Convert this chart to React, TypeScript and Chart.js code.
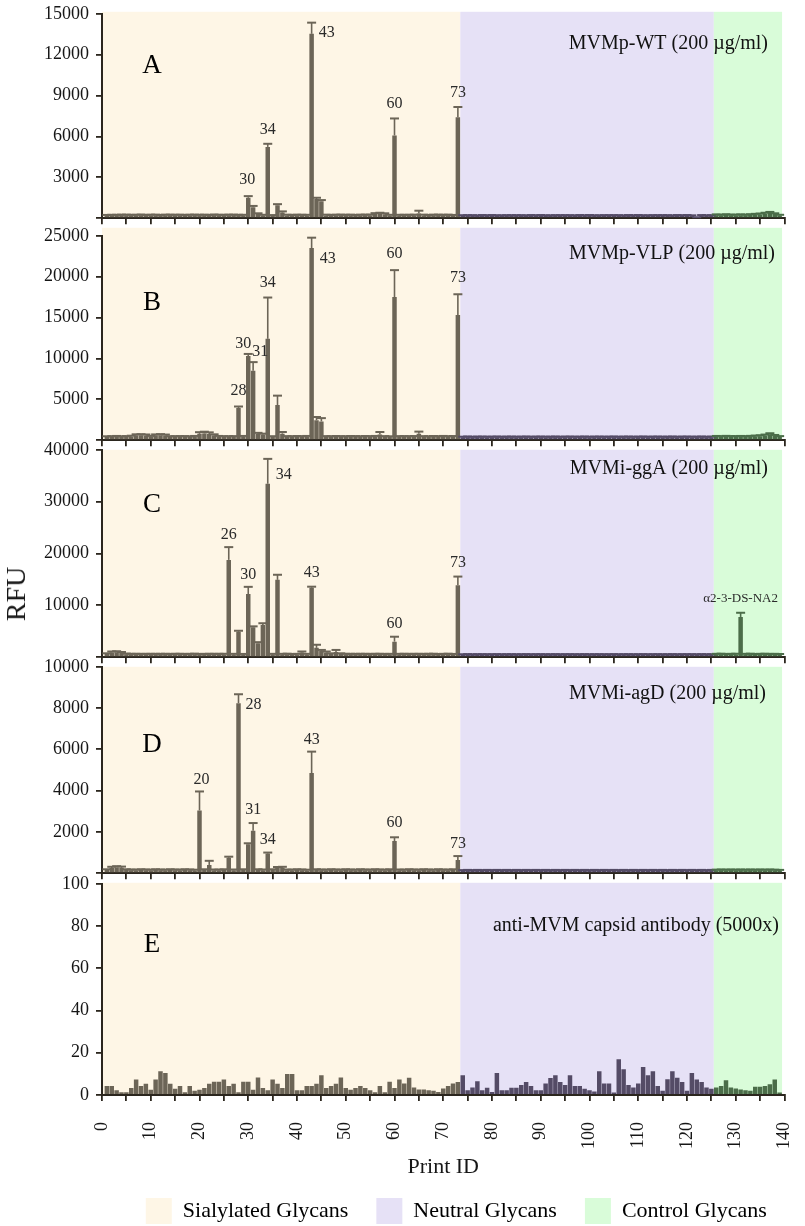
import React, { useEffect, useRef } from 'react';
import { Chart, registerables } from 'chart.js';

Chart.register(...registerables);

// ---------------- data ----------------
const printIds: number[] = Array.from({ length: 139 }, (_, i) => i + 1);

const groupNames = ['Sialylated Glycans', 'Neutral Glycans', 'Control Glycans'];
const groupFrom = [0, 73.5, 125.5];
const groupTo = [73.5, 125.5, 139.5];

const rfuA = [
  180, 200, 190, 210, 200, 190, 200, 210, 190, 200,
  200, 190, 200, 210, 190, 200, 190, 200, 210, 190,
  200, 190, 210, 200, 190, 200, 210, 190, 200, 1500,
  800, 300, 200, 5230, 180, 950, 420, 200, 190, 200,
  190, 200, 13530, 1400, 1250, 200, 190, 200, 210, 190,
  200, 190, 200, 210, 200, 300, 340, 290, 200, 6070,
  190, 200, 190, 210, 350, 200, 190, 200, 210, 190,
  200, 190, 7400, 170, 180, 170, 160, 180, 170, 180,
  170, 160, 180, 170, 180, 170, 160, 180, 170, 180,
  170, 160, 180, 170, 180, 170, 160, 180, 170, 180,
  170, 160, 180, 170, 180, 170, 160, 180, 170, 180,
  170, 160, 180, 170, 180, 170, 160, 180, 170, 180,
  170, 40, 180, 170, 170, 220, 200, 230, 210, 200,
  220, 210, 230, 250, 280, 330, 380, 300, 200,
];
const errA = [
  60, 50, 60, 50, 60, 60, 50, 60, 50, 60,
  60, 50, 60, 50, 60, 60, 50, 60, 50, 60,
  60, 50, 60, 50, 60, 60, 50, 60, 50, 120,
  100, 60, 50, 230, 50, 80, 80, 60, 50, 60,
  60, 50, 820, 100, 80, 60, 50, 60, 50, 60,
  60, 50, 60, 50, 60, 70, 60, 70, 50, 1250,
  60, 50, 60, 50, 200, 60, 50, 60, 50, 60,
  60, 50, 760, 50, 40, 50, 40, 50, 40, 50,
  40, 50, 40, 50, 40, 50, 40, 50, 40, 50,
  40, 50, 40, 50, 40, 50, 40, 50, 40, 50,
  40, 50, 40, 50, 40, 50, 40, 50, 40, 50,
  40, 50, 40, 50, 40, 50, 40, 50, 40, 50,
  40, 30, 50, 40, 50, 60, 50, 60, 50, 60,
  60, 50, 60, 70, 60, 70, 80, 60, 50,
];

const rfuB = [
  380, 400, 420, 390, 400, 450, 600, 620, 580, 420,
  600, 620, 580, 400, 390, 410, 400, 380, 420, 780,
  820, 760, 600, 420, 400, 390, 410, 3950, 420, 10300,
  8500, 800, 700, 12400, 400, 4300, 800, 400, 390, 410,
  400, 420, 23500, 2450, 2300, 400, 390, 410, 400, 380,
  420, 400, 390, 410, 400, 420, 700, 400, 390, 17500,
  400, 410, 390, 420, 800, 400, 390, 410, 400, 420,
  390, 410, 15300, 350, 360, 340, 350, 360, 340, 350,
  360, 340, 350, 360, 340, 350, 360, 340, 350, 360,
  340, 350, 360, 340, 350, 360, 340, 350, 360, 340,
  350, 360, 340, 350, 360, 340, 350, 360, 340, 350,
  360, 340, 350, 360, 340, 350, 360, 340, 350, 360,
  340, 350, 360, 340, 350, 420, 400, 430, 410, 400,
  420, 410, 430, 450, 480, 560, 700, 520, 400,
];
const errB = [
  100, 90, 100, 90, 100, 100, 120, 110, 120, 100,
  110, 120, 110, 90, 100, 90, 100, 90, 100, 200,
  220, 200, 120, 100, 90, 100, 90, 170, 100, 250,
  1050, 100, 100, 5050, 90, 1150, 200, 100, 90, 100,
  90, 100, 1270, 390, 400, 100, 90, 100, 90, 100,
  90, 100, 90, 100, 90, 100, 300, 100, 90, 3300,
  100, 90, 100, 90, 250, 100, 90, 100, 90, 100,
  90, 100, 2550, 80, 90, 80, 90, 80, 90, 80,
  90, 80, 90, 80, 90, 80, 90, 80, 90, 80,
  90, 80, 90, 80, 90, 80, 90, 80, 90, 80,
  90, 80, 90, 80, 90, 80, 90, 80, 90, 80,
  90, 80, 90, 80, 90, 80, 90, 80, 90, 80,
  90, 80, 90, 80, 90, 100, 90, 100, 90, 100,
  100, 90, 100, 110, 120, 130, 150, 120, 100,
];

const rfuC = [
  600, 900, 950, 850, 550, 500, 520, 480, 500, 510,
  490, 500, 520, 480, 500, 510, 490, 500, 520, 480,
  500, 510, 490, 500, 520, 18770, 500, 4900, 480, 12170,
  5800, 2700, 6200, 33450, 500, 14920, 500, 520, 480, 500,
  900, 500, 13400, 1800, 1200, 900, 600, 1000, 600, 500,
  510, 490, 500, 520, 480, 500, 510, 490, 500, 3000,
  500, 520, 480, 500, 510, 490, 500, 520, 480, 500,
  510, 490, 13900, 450, 460, 440, 450, 460, 440, 450,
  460, 440, 450, 460, 440, 450, 460, 440, 450, 460,
  440, 450, 460, 440, 450, 460, 440, 450, 460, 440,
  450, 460, 440, 450, 460, 440, 450, 460, 440, 450,
  460, 440, 450, 460, 440, 450, 460, 440, 450, 460,
  450, 440, 460, 450, 440, 500, 520, 480, 500, 510,
  7760, 500, 520, 480, 500, 510, 490, 500, 480,
];
const errC = [
  150, 200, 200, 150, 150, 150, 140, 160, 150, 140,
  160, 150, 140, 150, 160, 150, 140, 150, 160, 150,
  140, 150, 160, 150, 140, 2460, 150, 200, 150, 1400,
  150, 200, 350, 4800, 150, 980, 150, 160, 140, 150,
  200, 150, 200, 600, 200, 200, 150, 400, 150, 150,
  140, 160, 150, 140, 150, 160, 150, 140, 150, 950,
  150, 140, 160, 150, 140, 150, 160, 150, 140, 150,
  160, 140, 1650, 120, 130, 120, 130, 120, 130, 120,
  130, 120, 130, 120, 130, 120, 130, 120, 130, 120,
  130, 120, 130, 120, 130, 120, 130, 120, 130, 120,
  130, 120, 130, 120, 130, 120, 130, 120, 130, 120,
  130, 120, 130, 120, 130, 120, 130, 120, 130, 120,
  130, 120, 130, 120, 130, 150, 160, 140, 150, 160,
  810, 150, 160, 140, 150, 160, 140, 150, 140,
];

const rfuD = [
  150, 250, 280, 260, 150, 140, 130, 150, 140, 130,
  150, 140, 130, 150, 140, 130, 150, 140, 130, 3040,
  150, 400, 140, 130, 150, 750, 140, 8240, 150, 1400,
  2060, 150, 140, 950, 150, 250, 260, 140, 130, 150,
  140, 130, 4850, 150, 140, 130, 150, 140, 130, 150,
  140, 130, 150, 140, 130, 150, 140, 130, 150, 1560,
  140, 130, 150, 140, 130, 150, 140, 130, 150, 140,
  130, 150, 640, 120, 130, 120, 130, 120, 130, 120,
  130, 120, 130, 120, 130, 120, 130, 120, 130, 120,
  130, 120, 130, 120, 130, 120, 130, 120, 130, 120,
  130, 120, 130, 120, 130, 120, 130, 120, 130, 120,
  130, 120, 130, 120, 130, 120, 130, 120, 130, 120,
  130, 120, 130, 120, 130, 130, 140, 130, 140, 130,
  140, 130, 140, 130, 140, 130, 140, 130, 120,
];
const errD = [
  40, 60, 60, 60, 40, 40, 40, 40, 40, 40,
  40, 40, 40, 40, 40, 40, 40, 40, 40, 920,
  40, 200, 40, 40, 40, 50, 40, 430, 40, 50,
  370, 40, 40, 50, 40, 50, 50, 40, 40, 40,
  40, 40, 1040, 40, 40, 40, 40, 40, 40, 40,
  40, 40, 40, 40, 40, 40, 40, 40, 40, 180,
  40, 40, 40, 40, 40, 40, 40, 40, 40, 40,
  40, 40, 190, 30, 30, 30, 30, 30, 30, 30,
  30, 30, 30, 30, 30, 30, 30, 30, 30, 30,
  30, 30, 30, 30, 30, 30, 30, 30, 30, 30,
  30, 30, 30, 30, 30, 30, 30, 30, 30, 30,
  30, 30, 30, 30, 30, 30, 30, 30, 30, 30,
  30, 30, 30, 30, 30, 40, 40, 40, 40, 40,
  40, 40, 40, 40, 40, 40, 40, 40, 40,
];

const rfuE = [
  4.3, 4.3, 2.3, 1.3, 1.3, 3.3, 7.3, 4.3, 5.3, 2.5,
  7.3, 11.2, 10.4, 5.3, 3, 4.3, 1.3, 4.3, 2, 2.5,
  3.3, 5.3, 6.3, 6.3, 7.3, 4.3, 5.3, 1.3, 6.3, 6.3,
  2.5, 8.3, 3.3, 2.3, 7.3, 5.3, 3.3, 10, 10, 2.3,
  2.3, 4.3, 4.3, 5.3, 9.3, 3.3, 4.3, 5.3, 8.3, 3.3,
  2.5, 3.3, 4.3, 3.3, 2.3, 1.3, 4.3, 1.3, 6.3, 3.3,
  7.3, 5.4, 8.2, 3.6, 2.6, 2.6, 2.3, 2.0, 1.4, 3.1,
  4.3, 5.4, 6.2, 9.3, 2.3, 3.6, 6.5, 2.3, 3.4, 1.4,
  10.4, 2.3, 2.3, 3.4, 3.4, 4.7, 6.2, 4.3, 2.3, 2.3,
  5.4, 8, 9.3, 6.2, 4.7, 9.3, 4.3, 4.3, 3.0, 2.3,
  1.6, 11.3, 5.4, 5.4, 1.2, 16.9, 12.2, 4.7, 3.6, 5.4,
  13.2, 9.3, 11.3, 4.3, 2, 7.4, 11.3, 8.2, 6.2, 2,
  10.4, 7.3, 6.2, 3.6, 3.0, 3.6, 4.3, 7, 3.6, 3.1,
  2.6, 2.3, 2, 3.9, 3.9, 4.3, 5.1, 7.3, 1.2,
];

const peakIdsA = [30, 34, 43, 60, 73];
const peakNamesA = ['30', '34', '43', '60', '73'];
const peakIdsB = [28, 30, 31, 34, 43, 60, 73];
const peakNamesB = ['28', '30', '31', '34', '43', '60', '73'];
const peakIdsC = [26, 30, 34, 43, 60, 73, 131];
const peakNamesC = ['26', '30', '34', '43', '60', '73', 'α2-3-DS-NA2'];
const peakIdsD = [20, 28, 31, 34, 43, 60, 73];
const peakNamesD = ['20', '28', '31', '34', '43', '60', '73'];

const panelTitles = [
  'MVMp-WT (200 µg/ml)',
  'MVMp-VLP (200 µg/ml)',
  'MVMi-ggA (200 µg/ml)',
  'MVMi-agD (200 µg/ml)',
  'anti-MVM capsid antibody (5000x)',
];
const panelLetters = ['A', 'B', 'C', 'D', 'E'];
const yMaxes = [15000, 25000, 40000, 10000, 100];
const ySteps = [3000, 5000, 10000, 2000, 20];

// ---------------- styles / layout ----------------
const FONT = '"Liberation Serif", "Times New Roman", serif';
const TEXT = '#161616';
const AXIS = '#2b261e';
const BAND_COLORS = ['#fef6e6', '#e6e1f6', '#d9fcd9'];
const BAR_COLORS = ['#6c6557', '#544b66', '#4b6d49'];
const PAD_TOP = 14;
const PLOT_LEFT = 102;
const PLOT_RIGHT = 784.5;
const CAP = 9;
const E_CANVAS_BOTTOM = 1250;
const E_XAXIS_HEIGHT = 85;
const LEGEND_DX = 13;
const LEGEND_DY = -10;

const layouts = [
  { top: 10, bottom: 224, bandExtra: 2, titleDy: 30, titleRight: 768, letterDy: 52,
    offsets: { 30: [-1, -16], 34: [0, -14], 43: [15, 10], 60: [0, -15], 73: [0, -14] } },
  { top: 232, bottom: 446, bandExtra: 8, titleDy: 18, titleRight: 775, letterDy: 67,
    offsets: { 28: [0, -16], 30: [-5, -10], 31: [7, -10], 34: [0, -15], 43: [16, 21], 60: [0, -16], 73: [0, -16] } },
  { top: 446, bottom: 663, bandExtra: 0, titleDy: 19, titleRight: 768, letterDy: 55,
    offsets: { 26: [0, -12], 30: [0, -12], 34: [16, 16], 43: [0, -14], 60: [0, -13], 73: [0, -14], 131: [0, -14] } },
  { top: 663, bottom: 879, bandExtra: 0, titleDy: 27, titleRight: 766, letterDy: 78,
    offsets: { 20: [2, -12], 28: [15, 11], 31: [0, -13], 34: [0, -13], 43: [0, -12], 60: [0, -14], 73: [0, -12] } },
  { top: 880, bottom: 1095, bandExtra: 1, titleDy: 42, titleRight: 779, letterDy: 61, offsets: {} },
];

const panels = [
  { values: rfuA, errors: errA, peakIds: peakIdsA, peakNames: peakNamesA },
  { values: rfuB, errors: errB, peakIds: peakIdsB, peakNames: peakNamesB },
  { values: rfuC, errors: errC, peakIds: peakIdsC, peakNames: peakNamesC },
  { values: rfuD, errors: errD, peakIds: peakIdsD, peakNames: peakNamesD },
  { values: rfuE, errors: null, peakIds: [], peakNames: [] },
];

function groupOf(id: number): number {
  for (let g = 0; g < groupFrom.length; g++) {
    if (id >= groupFrom[g] && id < groupTo[g]) return g;
  }
  return groupFrom.length - 1;
}

function Panel({ index }: { index: number }) {
  const ref = useRef<HTMLCanvasElement | null>(null);
  const lay = layouts[index];
  const def = panels[index];
  const last = index === panels.length - 1;
  const canvasTop = lay.top - PAD_TOP;
  const canvasH = last ? E_CANVAS_BOTTOM - canvasTop : PAD_TOP + (lay.bottom - lay.top) + 12;

  useEffect(() => {
    const canvas = ref.current;
    if (!canvas) return;

    const decor = {
      id: 'decor' + index,
      afterLayout(chart: any) {
        if (!last || !chart.legend) return;
        const lg = chart.legend;
        lg.left += LEGEND_DX;
        lg.right += LEGEND_DX;
        lg.top += LEGEND_DY;
        lg.bottom += LEGEND_DY;
      },
      beforeDraw(chart: any) {
        const { ctx, chartArea, scales } = chart;
        const x = scales.x;
        ctx.save();
        for (let g = 0; g < groupFrom.length; g++) {
          const x0 = x.getPixelForValue(groupFrom[g]);
          const x1 = x.getPixelForValue(groupTo[g]);
          ctx.fillStyle = BAND_COLORS[g];
          ctx.fillRect(x0, chartArea.top - lay.bandExtra, x1 - x0, chartArea.bottom - chartArea.top + lay.bandExtra);
        }
        ctx.restore();
      },
      afterDatasetsDraw(chart: any) {
        if (!def.errors) return;
        const { ctx, scales } = chart;
        const x = scales.x;
        const y = scales.y;
        ctx.save();
        def.values.forEach((v: number, i: number) => {
          const e = def.errors![i];
          if (!e) return;
          const id = printIds[i];
          const px = x.getPixelForValue(id);
          const y0 = y.getPixelForValue(v);
          const y1 = y.getPixelForValue(v + e);
          ctx.strokeStyle = BAR_COLORS[groupOf(id)];
          ctx.lineWidth = 1.6;
          ctx.beginPath();
          ctx.moveTo(px, y0);
          ctx.lineTo(px, y1);
          ctx.stroke();
          ctx.lineWidth = 2;
          ctx.beginPath();
          ctx.moveTo(px - CAP / 2, y1);
          ctx.lineTo(px + CAP / 2, y1);
          ctx.stroke();
        });
        ctx.restore();
      },
      afterDraw(chart: any) {
        const { ctx, chartArea, scales } = chart;
        const x = scales.x;
        const y = scales.y;
        ctx.save();
        ctx.fillStyle = '#000';
        ctx.textBaseline = 'middle';
        ctx.textAlign = 'center';
        ctx.font = `27px ${FONT}`;
        ctx.fillText(panelLetters[index], 152, chartArea.top + lay.letterDy);
        ctx.font = `20px ${FONT}`;
        ctx.textAlign = 'right';
        ctx.fillStyle = '#111';
        ctx.fillText(panelTitles[index], lay.titleRight, chartArea.top + lay.titleDy);
        ctx.textAlign = 'center';
        ctx.fillStyle = '#2a2a2a';
        def.peakIds.forEach((id: number, k: number) => {
          const i = printIds.indexOf(id);
          const top = def.values[i] + (def.errors ? def.errors[i] : 0);
          const off = (lay.offsets as any)[id] || [0, -14];
          const name = def.peakNames[k];
          ctx.font = name.length > 3 ? `13px ${FONT}` : `16px ${FONT}`;
          ctx.fillText(name, x.getPixelForValue(id) + off[0], y.getPixelForValue(top) + off[1]);
        });
        ctx.restore();
      },
    };

    const chart = new Chart(canvas, {
      type: 'bar',
      data: {
        datasets: [
          {
            data: printIds.map((id, i) => ({ x: id, y: def.values[i] })),
            backgroundColor: printIds.map((id) => BAR_COLORS[groupOf(id)]),
            borderWidth: 0,
            barPercentage: 0.92,
            categoryPercentage: 1,
          },
        ],
      },
      options: {
        responsive: false,
        animation: false,
        events: [],
        layout: { padding: { top: PAD_TOP, left: 0, right: 805 - PLOT_RIGHT, bottom: last ? 6 : 0 } },
        plugins: {
          tooltip: { enabled: false },
          legend: last
            ? {
                display: true,
                position: 'bottom',
                fullSize: false,
                align: 'center',
                labels: {
                  boxWidth: 26,
                  boxHeight: 26,
                  padding: 28,
                  color: TEXT,
                  font: { family: FONT, size: 22 },
                  generateLabels: () =>
                    groupNames.map((g, i) => ({
                      text: g,
                      fillStyle: BAND_COLORS[i],
                      strokeStyle: BAND_COLORS[i],
                      lineWidth: 0,
                      hidden: false,
                      datasetIndex: 0,
                    })),
                },
              }
            : { display: false },
        },
        scales: {
          x: {
            type: 'linear',
            min: 0,
            max: 140,
            offset: false,
            ticks: last
              ? {
                  stepSize: 5,
                  autoSkip: false,
                  minRotation: 90,
                  maxRotation: 90,
                  padding: 21,
                  color: TEXT,
                  font: { family: FONT, size: 18 },
                  callback: (v: any) => (Number(v) % 10 === 0 ? String(v) : ''),
                }
              : { stepSize: 5, display: false },
            grid: { drawOnChartArea: false, drawTicks: true, tickLength: 6, color: AXIS, lineWidth: 1.8, offset: false },
            border: { display: true, color: AXIS, width: 2 },
            title: last
              ? { display: true, text: 'Print ID', color: TEXT, font: { family: FONT, size: 22 }, padding: { top: 16, bottom: 0 } }
              : { display: false },
            afterFit: (s: any) => {
              s.height = last ? E_XAXIS_HEIGHT : 12;
              s.paddingLeft = 0;
              s.paddingRight = 0;
            },
          },
          y: {
            min: 0,
            max: yMaxes[index],
            ticks: {
              stepSize: ySteps[index],
              padding: 7,
              color: TEXT,
              font: { family: FONT, size: 18 },
              callback: (v: any) => (Number(v) === 0 && !last ? '' : String(v)),
            },
            grid: { drawOnChartArea: false, drawTicks: true, tickLength: 6, color: AXIS, lineWidth: 1.8 },
            border: { display: true, color: AXIS, width: 2 },
            afterFit: (s: any) => { s.width = PLOT_LEFT; },
          },
        },
      } as any,
      plugins: [decor],
    });
    return () => chart.destroy();
  }, []);

  return (
    <canvas
      ref={ref}
      width={805}
      height={canvasH}
      style={{ position: 'absolute', left: 0, top: canvasTop, width: 805, height: canvasH, zIndex: 10 - index }}
    />
  );
}

export default function App() {
  return (
    <div style={{ position: 'fixed', left: 0, top: 0, width: 805, height: 1260, overflow: 'hidden', background: '#fff' }}>
      {panels.map((_, i) => (
        <Panel key={i} index={i} />
      ))}
      <div
        style={{
          position: 'absolute',
          left: 16,
          top: 594,
          transform: 'translate(-50%, -50%) rotate(-90deg)',
          font: `28px ${FONT}`,
          color: TEXT,
          whiteSpace: 'nowrap',
          zIndex: 20,
        }}
      >
        RFU
      </div>
    </div>
  );
}
